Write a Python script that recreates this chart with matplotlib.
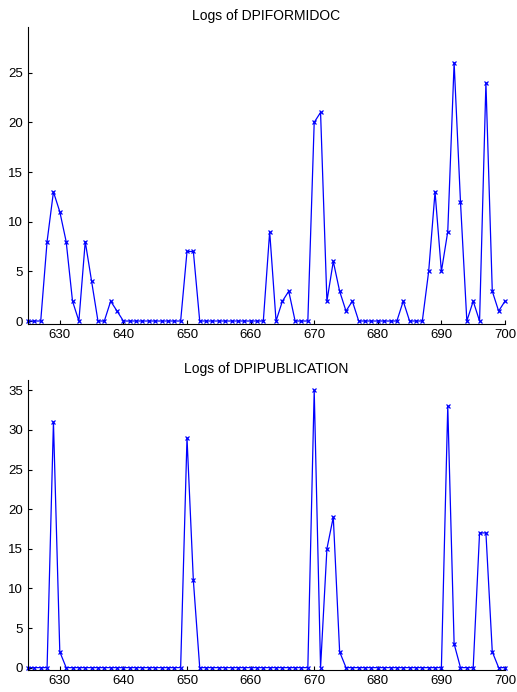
import numpy as np
import matplotlib
matplotlib.use("Agg")
import matplotlib.pyplot as plt

plt.rcParams['font.family'] = ['Liberation Sans', 'DejaVu Sans']

days = np.arange(625, 701)

formidoc = [0, 0, 0, 8, 13, 11, 8, 2, 0, 8, 4, 0, 0, 2, 1,
            0, 0, 0, 0, 0, 0, 0, 0, 0, 0,
            7, 7,
            0, 0, 0, 0, 0, 0, 0, 0, 0, 0, 0,
            9, 0, 2, 3, 0, 0, 0,
            20, 21, 2, 6, 3, 1, 2,
            0, 0, 0, 0, 0, 0, 0,
            2, 0, 0, 0, 5, 13, 5, 9, 26, 12, 0, 2, 0, 24, 3, 1, 2]

publication = [0, 0, 0, 0, 31, 2,
               0, 0, 0, 0, 0, 0, 0, 0, 0, 0, 0, 0, 0, 0, 0, 0, 0, 0, 0,
               29, 11,
               0, 0, 0, 0, 0, 0, 0, 0, 0, 0, 0, 0, 0, 0, 0, 0, 0, 0,
               35, 0, 15, 19, 2,
               0, 0, 0, 0, 0, 0, 0, 0, 0, 0, 0, 0, 0, 0, 0, 0,
               33, 3, 0, 0, 0, 17, 17, 2, 0, 0]

titles = ["Logs of DPIFORMIDOC", "Logs of DPIPUBLICATION"]

fig = plt.figure(figsize=(5.17, 6.92), dpi=100)
W, H = 517, 692
boxes = [(28, 27, 505, 324), (28, 380, 505, 670)]
ylims = [(-0.3, 29.6), (-0.3, 36.3)]
yticks = [range(0, 30, 5), range(0, 40, 5)]

for series, title, (l, t, r, b), yl, yt in zip([formidoc, publication], titles, boxes, ylims, yticks):
    ax = fig.add_axes([l / W, 1 - b / H, (r - l) / W, (b - t) / H])
    ax.plot(days, series, color="blue", lw=0.9, marker="x", ms=3.5, mew=0.9, clip_on=False)
    ax.set_xlim(625, 700)
    ax.set_ylim(*yl)
    ax.set_xticks(range(630, 701, 10))
    ax.set_yticks(list(yt))
    ax.spines["top"].set_visible(False)
    ax.spines["right"].set_visible(False)
    ax.tick_params(direction="in", labelsize=9.5, length=3)
    ax.set_title(title, fontsize=10, pad=5)

fig.savefig("out.png", dpi=100)
